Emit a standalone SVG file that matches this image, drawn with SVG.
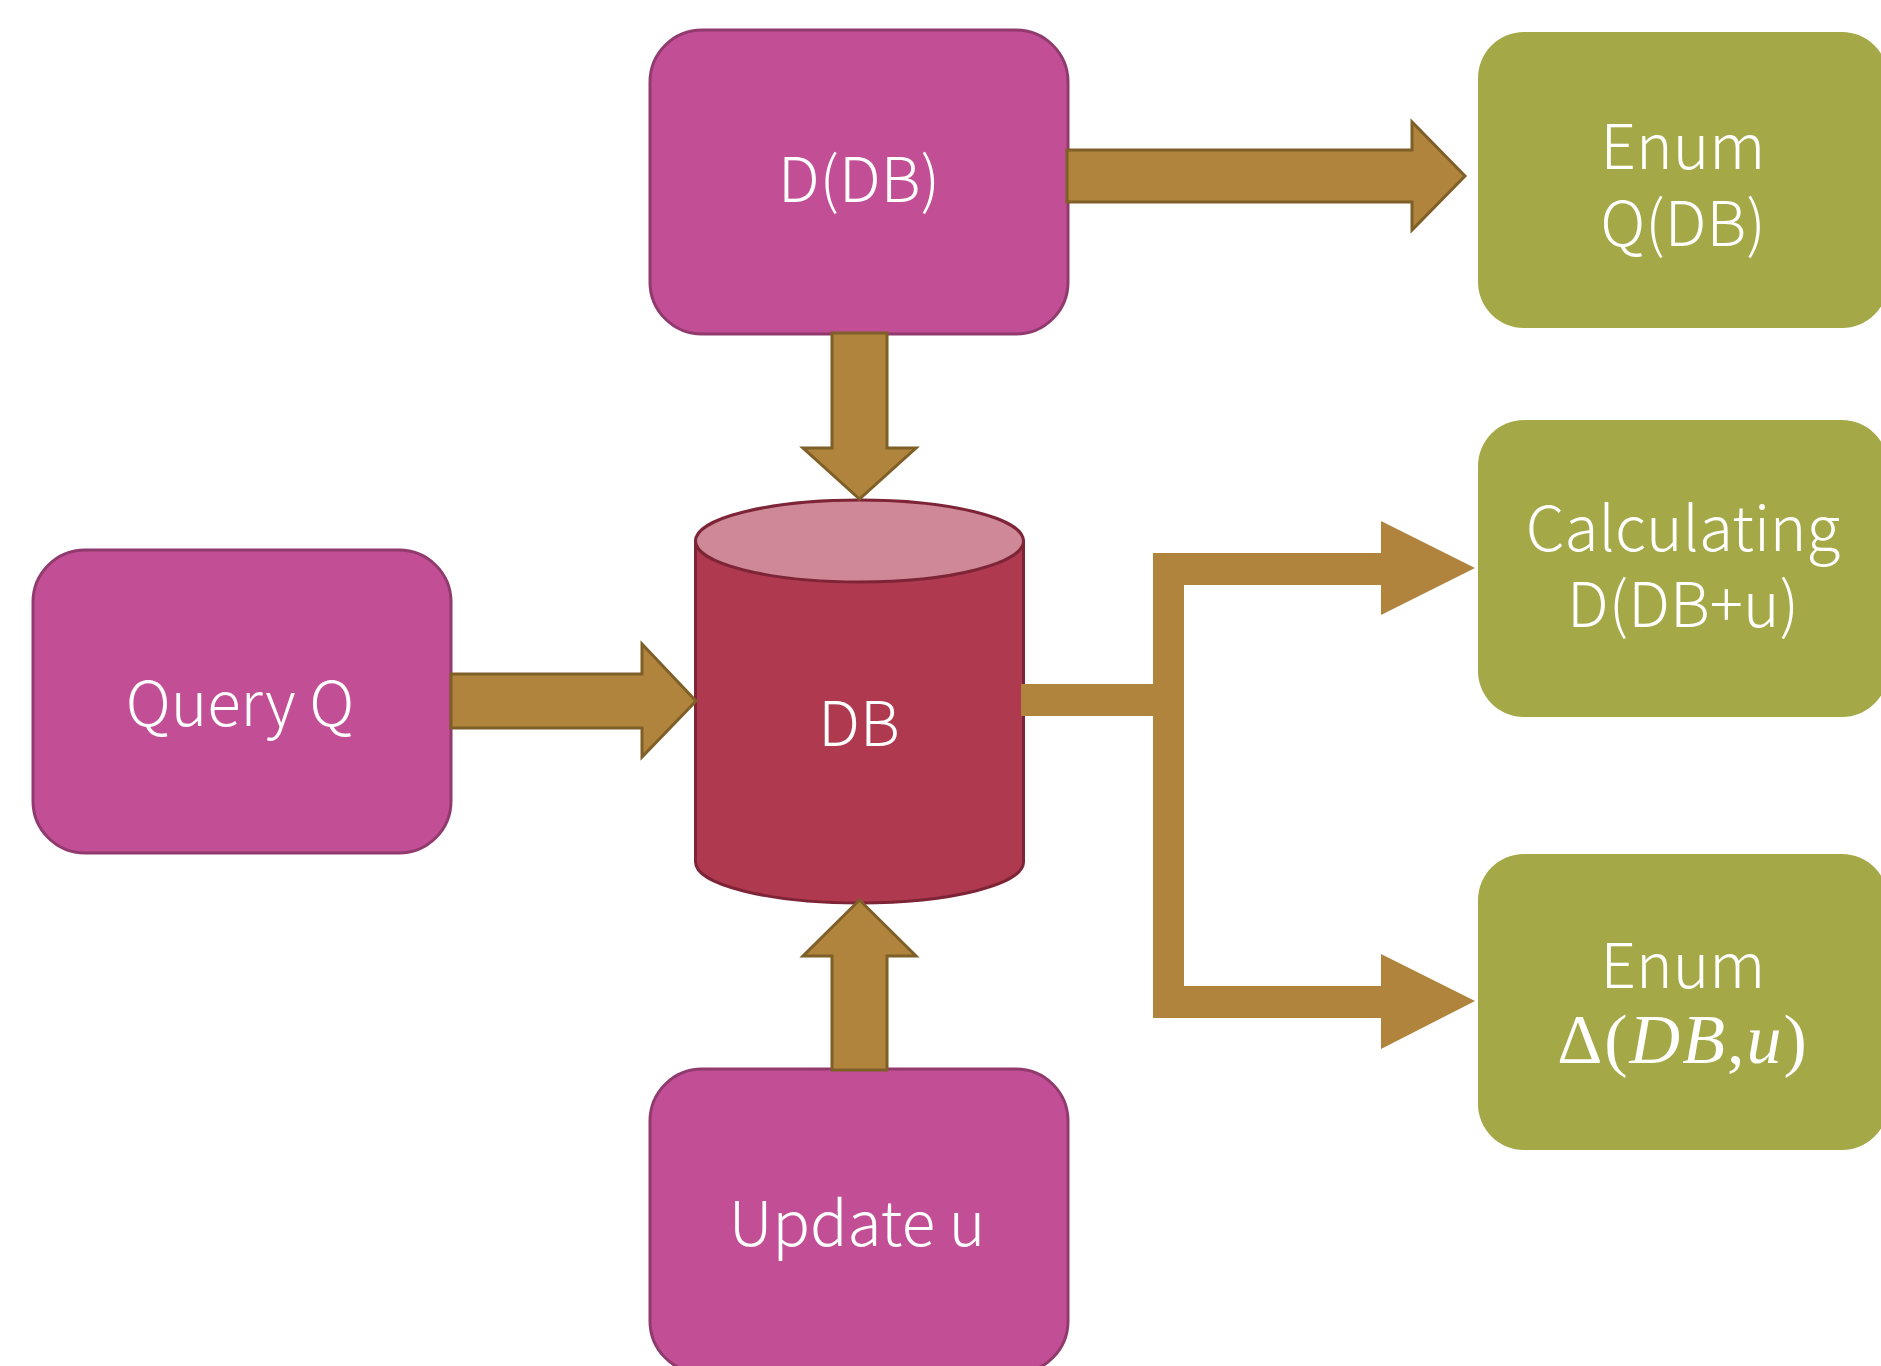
<svg xmlns="http://www.w3.org/2000/svg" width="1881" height="1366" viewBox="0 0 1881 1366">
<style>
.mag{fill:#C24F95;stroke:#913A6E;stroke-width:3}
.grn{fill:#A4A846}
.arr{fill:#B0843D;stroke:#7F5F28;stroke-width:3;stroke-linejoin:miter}
.flow{fill:#B0843D}
.t{fill:#FFFFFF;font-family:"Noto Sans CJK SC","Open Sans","Noto Sans",sans-serif;font-weight:300;font-size:62px;text-anchor:middle}
.m{fill:#FFFFFF;font-family:"Liberation Serif","DejaVu Serif",serif;font-size:70px;text-anchor:middle}
</style>
<rect width="1881" height="1366" fill="#FFFFFF"/>
<g id="node-ddb">
<rect class="mag" x="650" y="30" width="418" height="304" rx="52" ry="52"/>
<text class="t" x="859" y="202">D(DB)</text>
</g>
<g id="node-query">
<rect class="mag" x="33" y="550" width="418" height="303" rx="52" ry="52"/>
<text class="t" x="240" y="726" font-size="66">Query Q</text>
</g>
<g id="node-update">
<rect class="mag" x="650" y="1069" width="418" height="304" rx="52" ry="52"/>
<text class="t" x="857" y="1246" font-size="66">Update u</text>
</g>
<g id="node-db">
<path d="M695.5,541 V862 A164,41 0 0 0 1023.5,862 V541 Z" fill="#AF3A50" stroke="#7E2437" stroke-width="3"/>
<ellipse cx="859.5" cy="541" rx="164" ry="41" fill="#CE8896" stroke="#7E2437" stroke-width="3"/>
<text class="t" x="859" y="746">DB</text>
</g>
<g id="node-enumq">
<rect class="grn" x="1478" y="32" width="410" height="296" rx="46" ry="46"/>
<text class="t" x="1683" y="169">Enum</text>
<text class="t" x="1683" y="246">Q(DB)</text>
</g>
<g id="node-calc">
<rect class="grn" x="1478" y="420" width="410" height="297" rx="46" ry="46"/>
<text class="t" x="1683" y="551">Calculating</text>
<text class="t" x="1683" y="627">D(DB+u)</text>
</g>
<g id="node-enumdelta">
<rect class="grn" x="1478" y="854" width="410" height="296" rx="46" ry="46"/>
<text class="t" x="1683" y="988">Enum</text>
<text class="m" x="1683" y="1063" letter-spacing="2">Δ(<tspan font-style="italic">DB</tspan>,<tspan font-style="italic">u</tspan>)</text>
</g>
<g id="connectors">
<path class="arr" d="M1067,150 H1412 V122 L1465,176 L1412,230 V202 H1067 Z"/>
<path class="arr" d="M832,333 H887 V448 H916 L859.5,499 L803,448 H832 Z"/>
<path class="arr" d="M832,1070 V956 H803 L859.5,900 L916,956 H887 V1070 Z"/>
<path class="arr" d="M451,674 H642 V644 L696,701 L642,757 V728 H451 Z"/>
<path class="flow" d="M1021,684 H1153 V553 H1381 V521 L1475,568 L1381,615 V585 H1184 V986 H1381 V954 L1475,1001 L1381,1049 V1018 H1153 V716 H1021 Z"/>
</g>
</svg>
